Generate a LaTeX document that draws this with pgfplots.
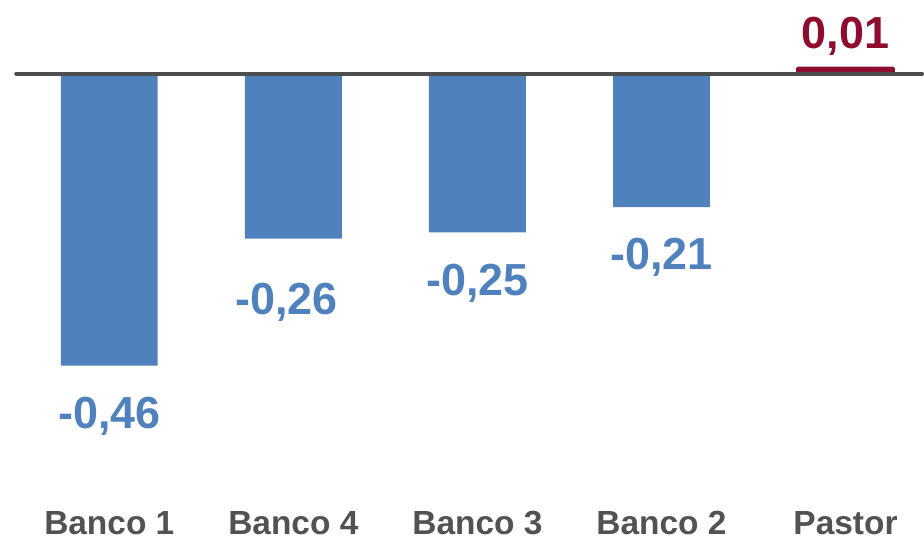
\documentclass[border=0pt]{standalone}
\usepackage{pgfplots}
\pgfplotsset{compat=1.18}
\usepackage{fontspec}
\setmainfont{Liberation Sans}

\definecolor{barblue}{HTML}{4F81BD}
\definecolor{pastorred}{HTML}{8E0C2F}
\definecolor{labelgray}{HTML}{525252}
\definecolor{zerogray}{HTML}{4D4D4D}

\begin{document}
\begin{tikzpicture}
\begin{axis}[
  width=924pt, height=540pt, scale only axis,
  xmin=-0.5938, xmax=4.417, ymin=-0.73386, ymax=0.11654,
  axis line style={draw=none},
  ytick=\empty,
  xtick={0,...,4},
  xticklabels={Banco 1,Banco 4,Banco 3,Banco 2,Pastor},
  major tick length=0pt,
  xticklabel style={anchor=base, yshift=5pt, inner sep=0pt,
    font=\fontsize{33.5}{40}\selectfont\bfseries, text=labelgray},
  ybar, bar width=97pt, bar shift=0pt,
  clip=false,
  nodes near coords={\pgfmathprintnumber[fixed,fixed zerofill,precision=2,use comma,assume math mode=true]{\pgfplotspointmeta}},
]
% banks with a negative result
\addplot[fill=barblue, draw=none,
  every node near coord/.append style={anchor=base, yshift=-63pt, inner sep=0pt,
    font=\fontsize{45}{54}\selectfont\bfseries, text=barblue},
  coordinate style/.condition={x==1}{xshift=-7pt,yshift=-13pt}]
  coordinates {(0,-0.46) (1,-0.26) (2,-0.25) (3,-0.21)};
% Pastor
\addplot[fill=pastorred, draw=pastorred, line width=2pt, rounded corners=1pt,
  every node near coord/.append style={anchor=base, yshift=19.5pt, inner sep=0pt,
    font=\fontsize{45}{54}\selectfont\bfseries, text=pastorred}]
  coordinates {(4,0.01)};
% zero line
\draw[zerogray, line width=3.5pt, line cap=round] (axis cs:-0.507,0) -- (axis cs:4.417,0);
\path[use as bounding box] (rel axis cs:0,0) rectangle (rel axis cs:1,1);
\end{axis}
\end{tikzpicture}
\end{document}
